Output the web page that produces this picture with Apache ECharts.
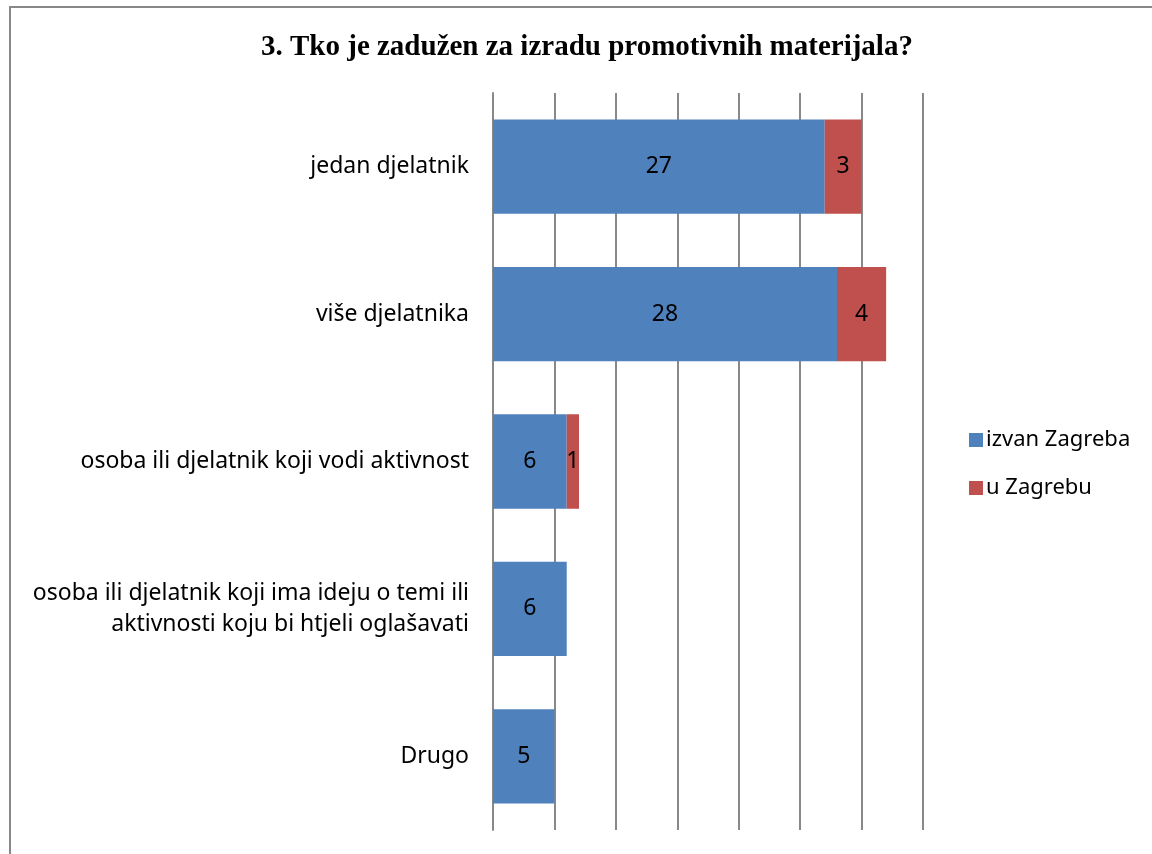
<!DOCTYPE html>
<html>
<head>
<meta charset="utf-8">
<script src="https://cdn.jsdelivr.net/npm/echarts@6/dist/echarts.min.js"></script>
<style>
  html, body { margin: 0; padding: 0; background: #fff; overflow: hidden; }
  #chart { width: 1152px; height: 854px; }
  .frame { position: absolute; left: 9px; top: 6px; width: 1300px; height: 1000px; border: 2px solid #888; pointer-events: none; }
</style>
</head>
<body>
<div id="chart"></div>
<div class="frame"></div>
<script>
// podaci
const categories = [
  'jedan djelatnik',
  'više djelatnika',
  'osoba ili djelatnik koji vodi aktivnost',
  'osoba ili djelatnik koji ima ideju o temi ili\naktivnosti koju bi htjeli oglašavati',
  'Drugo'
];
const izvanZagreba = [27, 28, 6, 6, 5];
const uZagrebu = [3, 4, 1, 0, 0];

const labelFont = 'Noto Sans, Open Sans, sans-serif';

const chart = echarts.init(document.getElementById('chart'));
const option = {
  animation: false,
  title: {
    text: '3. Tko je zadužen za izradu promotivnih materijala?',
    left: 256,
    top: 28,
    textStyle: { fontFamily: 'Liberation Serif, serif', fontWeight: 'bold', fontSize: 29, color: '#000' }
  },
  legend: {
    orient: 'vertical',
    left: 964,
    top: 424,
    itemWidth: 14,
    itemHeight: 14,
    itemGap: 26,
    icon: 'rect',
    textStyle: { fontFamily: labelFont, fontSize: 22, color: '#000', padding: [0, 0, 0, -2] },
    data: ['izvan Zagreba', 'u Zagrebu']
  },
  grid: { left: 493, right: 229, top: 93, bottom: 24, containLabel: false },
  xAxis: {
    type: 'value',
    min: 0,
    max: 35,
    interval: 5,
    axisLabel: { show: false },
    axisLine: { show: false },
    axisTick: { show: false },
    splitLine: { lineStyle: { color: '#888', width: 2 } }
  },
  yAxis: {
    type: 'category',
    inverse: true,
    data: categories,
    axisTick: { show: false },
    axisLine: { show: true, lineStyle: { color: '#888', width: 2 } },
    axisLabel: { margin: 24, fontFamily: labelFont, fontSize: 23, color: '#000', lineHeight: 31, align: 'right' }
  },
  series: [
    {
      name: 'izvan Zagreba',
      type: 'bar',
      stack: 'ukupno',
      barCategoryGap: '36%',
      data: izvanZagreba,
      itemStyle: { color: '#4F81BD' },
      label: { show: true, position: 'inside', fontFamily: labelFont, fontSize: 23, color: '#000' }
    },
    {
      name: 'u Zagrebu',
      type: 'bar',
      stack: 'ukupno',
      data: uZagrebu.map(v => (v === 0 ? null : v)),
      itemStyle: { color: '#C0504D' },
      label: { show: true, position: 'inside', fontFamily: labelFont, fontSize: 23, color: '#000' }
    }
  ]
};
chart.setOption(option);
</script>
</body>
</html>
